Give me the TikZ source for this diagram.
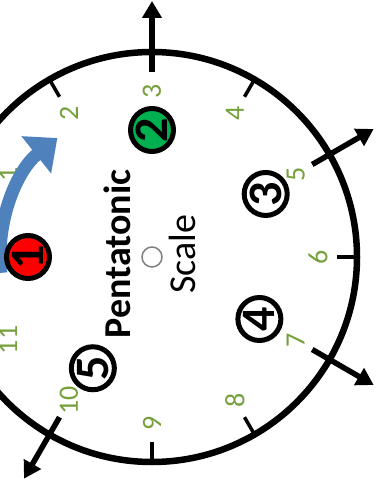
\documentclass[tikz,border=0pt]{standalone}
\usepackage{fontspec}
\setmainfont{Carlito}
\usepackage{xcolor}
\usepackage{tikz}
\usetikzlibrary{arrows.meta}
\definecolor{hourgreen}{RGB}{118,160,60}
\definecolor{arcblue}{RGB}{79,129,189}
\definecolor{notegreen}{RGB}{0,176,80}

\begin{document}
\begin{tikzpicture}[x=1pt,y=1pt,
  hourtick/.style={line width=3.5pt},
  noteout/.style={line width=5.5pt,-{Triangle[width=19pt,length=17pt]}},
  hour/.style={text=hourgreen,font=\fontsize{28}{28}\selectfont,rotate=90},
  note/.style={circle,draw=black,line width=5pt,minimum size=43pt,inner sep=0pt,
    font=\fontsize{48}{48}\selectfont\bfseries,rotate=90}]
  \clip (-152,-229) rectangle (224,257);
  \draw[line width=6.5pt] (0,0) circle (205pt);
  \foreach \h in {1,2,4,6,8,9,11}
    \draw[hourtick] ({180-30*\h}:185) -- ({180-30*\h}:205);
  \foreach \h in {3,5,7,10}
    \draw[noteout] ({180-30*\h}:185) -- ({180-30*\h}:256);
  \foreach \h in {1,...,11}
    \node[hour] (h\h) at ({180-30*\h}:166) {\h};
  \draw[arcblue,line width=13pt,-{Triangle[width=46pt,length=27pt]}]
    (186:152) arc[start angle=186,end angle=128.5,radius=152pt];
  \node[note,fill=red] (n1) at (180:124) {1};
  \node[note,fill=notegreen] (n2) at (90:127) {2};
  \node[note,fill=white] (n3) at (29:130) {3};
  \node[note,fill=white] (n4) at (-30:124) {4};
  \node[note,fill=white] (n5) at (-118:126) {5};
  \node[circle,draw=gray,line width=1.5pt,minimum size=20pt,inner sep=0pt] (centre) at (0,0) {};
  \node[rotate=90,anchor=base,font=\fontsize{38}{38}\selectfont\bfseries] (title) at (-22,3) {Pentatonic};
  \node[rotate=90,anchor=base,font=\fontsize{38}{38}\selectfont] (subtitle) at (43,3) {Scale};
\end{tikzpicture}
\end{document}
